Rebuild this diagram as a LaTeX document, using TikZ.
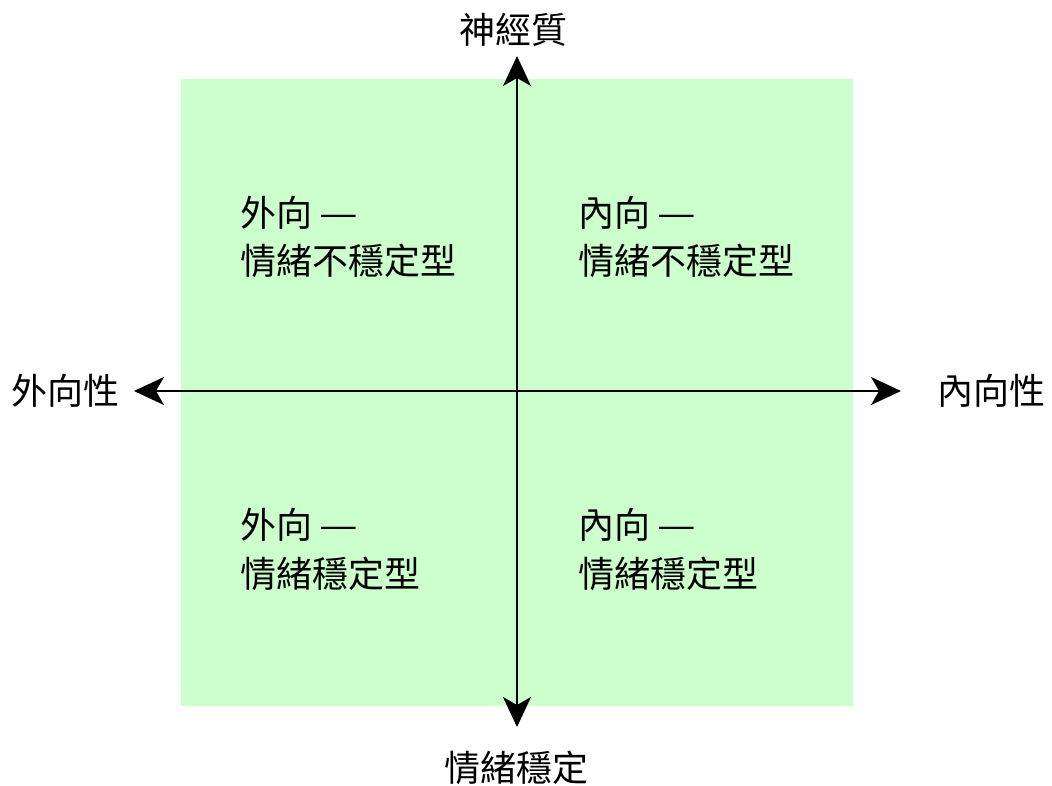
\documentclass[tikz,border=0pt]{standalone}
\usepackage{fontspec}
\usepackage{graphicx}
\newfontfamily\cjk{Noto Sans CJK TC}
\usetikzlibrary{arrows.meta}
\newcommand{\wdash}{\hspace{0.2em}\scalebox{1.2}[1]{—}}
\begin{document}
\begin{tikzpicture}[x=1pt,y=-1pt,
  axis/.style={line width=1.8pt,-{Stealth[length=30pt,width=28pt,inset=8pt]}},
  lbl/.style={inner sep=0pt,font=\cjk\fontsize{36}{42}\selectfont},
  qline/.style={lbl,anchor=base west}]
\fill[white] (0,0) rectangle (1052,785);
\useasboundingbox (0,0) rectangle (1052,785);
\fill[fill={rgb,255:red,204;green,255;blue,204}] (181,79) rectangle (853,706);
\coordinate (o) at (517,391);
\coordinate (L) at (134,391);
\coordinate (R) at (901,391);
\coordinate (T) at (517,56);
\coordinate (B) at (517,727);
\draw[axis] (o) -- (L);
\draw[axis] (o) -- (R);
\draw[axis] (o) -- (T);
\draw[axis] (o) -- (B);
\node[lbl] (top) at (513,30) {神經質};
\node[lbl] (bot) at (516,768) {情緒穩定};
\node[lbl] (left) at (65,391) {外向性};
\node[lbl] (right) at (991,391) {內向性};
\node[qline] (q1a) at (240,226) {外向\wdash};
\node[qline] (q1b) at (240,274) {情緒不穩定型};
\node[qline] (q2a) at (578,226) {內向\wdash};
\node[qline] (q2b) at (578,274) {情緒不穩定型};
\node[qline] (q3a) at (240,538) {外向\wdash};
\node[qline] (q3b) at (240,587) {情緒穩定型};
\node[qline] (q4a) at (578,538) {內向\wdash};
\node[qline] (q4b) at (578,587) {情緒穩定型};
\end{tikzpicture}
\end{document}
